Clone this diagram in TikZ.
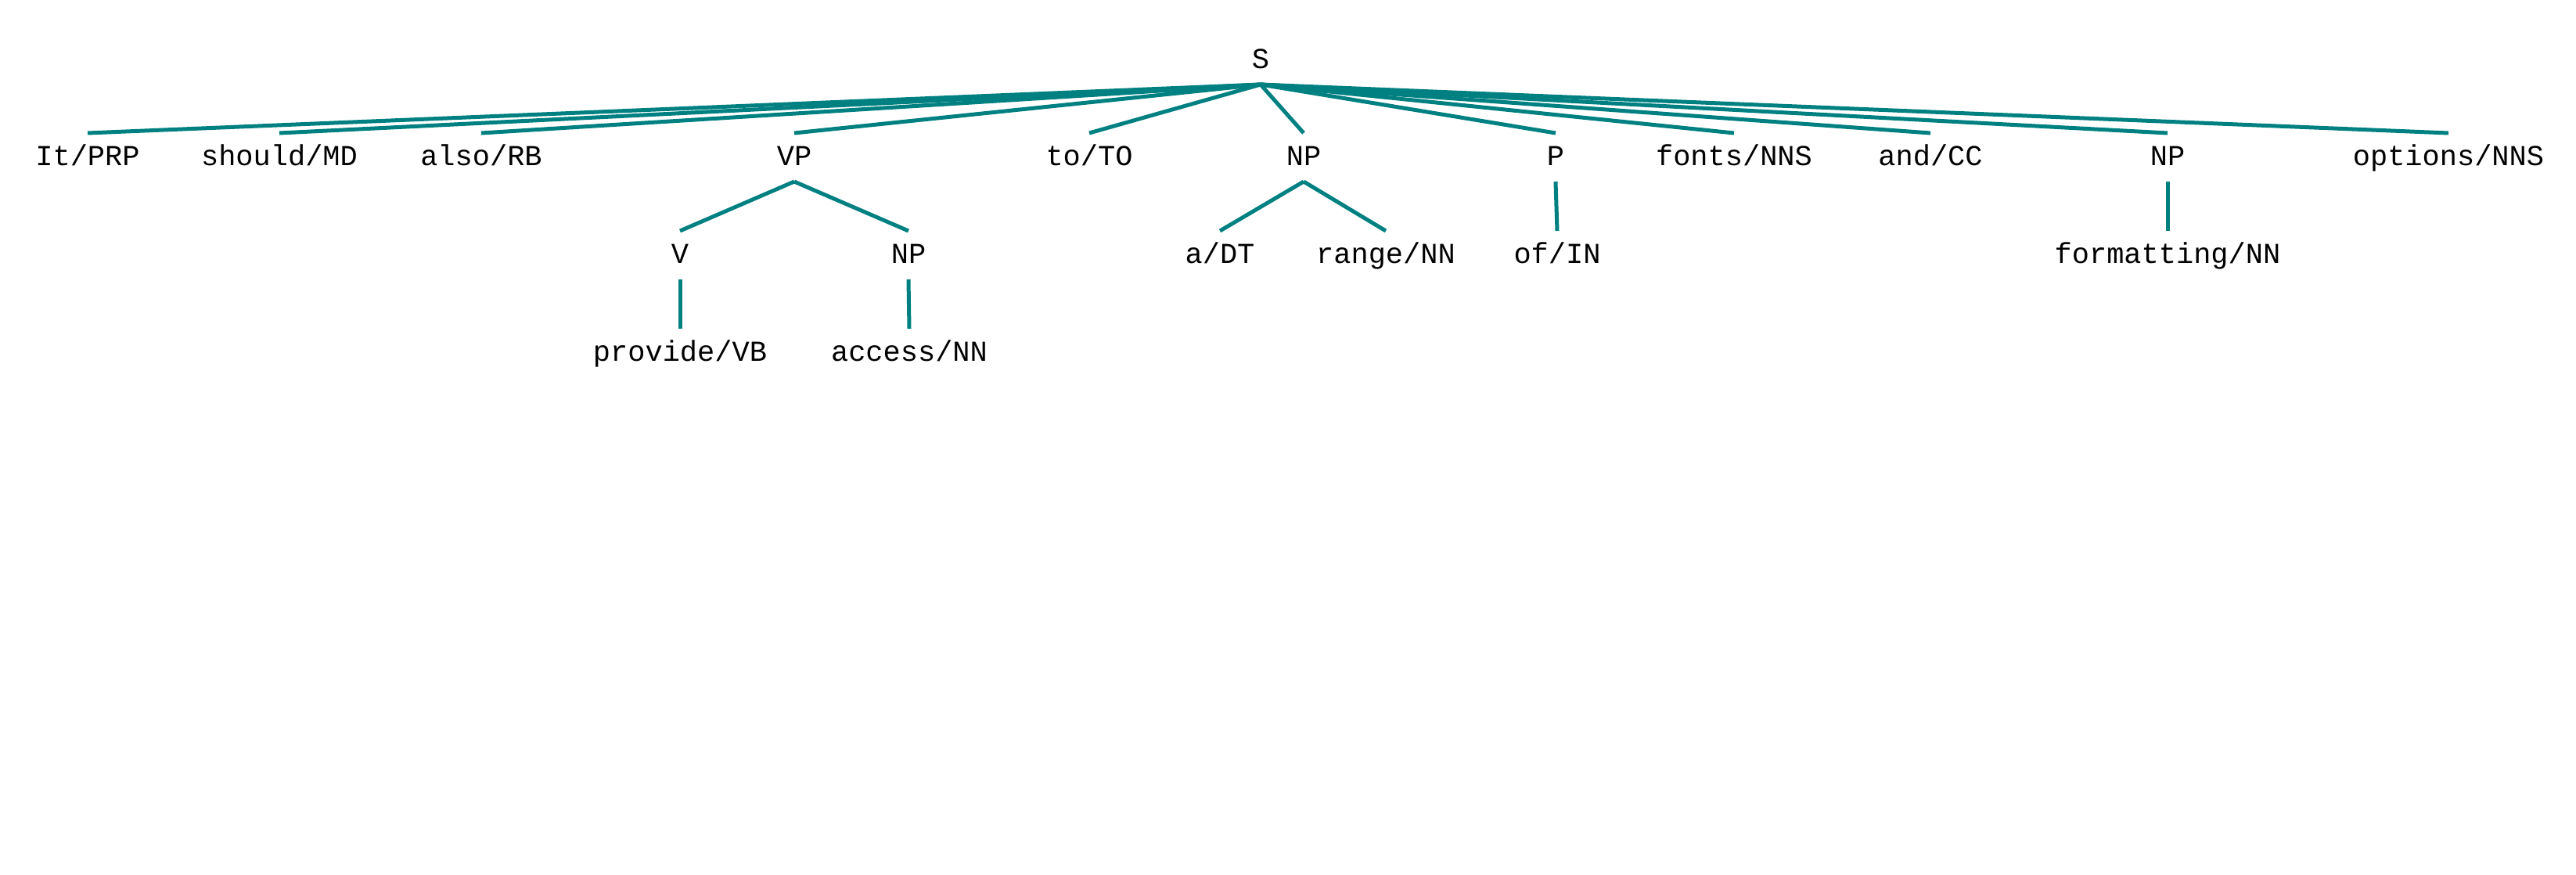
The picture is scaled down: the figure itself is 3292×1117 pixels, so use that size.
\documentclass[tikz,border=0pt]{standalone}
\usepackage{fontspec}
\setmonofont{Liberation Mono}
\usepackage{tikz}
\tikzset{%
  tok/.style={font=\fontsize{9.25}{11}\ttfamily,inner xsep=0,inner ysep=4.9pt,text height=5.3pt,text depth=0pt},
  tedge/.style={draw=teal,line width=1.25pt}
}

\begin{document}
\begin{tikzpicture}[x=0.25pt,y=-0.25pt]
    \useasboundingbox (0,0) rectangle (3292,1117);
    \path
      (1611,77) node (s)[tok]{S}
      (112,201) node (it)[tok]{It/PRP}
      (357,201) node (should)[tok]{should/MD}
      (615,201) node (also)[tok]{also/RB}
      (1015,201) node (vp)[tok]{VP}
      (1392,201) node (tot)[tok]{to/TO}
      (1666,201) node (npa)[tok]{NP}
      (1988,201) node (p)[tok]{P}
      (2216,201) node (fonts)[tok]{fonts/NNS}
      (2467,201) node (cc)[tok]{and/CC}
      (2770,201) node (npc)[tok]{NP}
      (3129,201) node (options)[tok]{options/NNS}
      (869,326) node (v)[tok]{V}
      (1161,326) node (npb)[tok]{NP}
      (1559,326) node (dt)[tok]{a/DT}
      (1771,326) node (range)[tok]{range/NN}
      (1990,326) node (of)[tok]{of/IN}
      (2770,326) node (formatting)[tok]{formatting/NN}
      (869,451) node (provide)[tok]{provide/VB}
      (1162,451) node (access)[tok]{access/NN};
    \foreach \c in {it,should,also,vp,tot,npa,p,fonts,cc,npc,options}
      \draw[tedge] (s.south) -- (\c.north);
    \draw[tedge] (vp.south) -- (v.north);
    \draw[tedge] (vp.south) -- (npb.north);
    \draw[tedge] (v.south) -- (provide.north);
    \draw[tedge] (npb.south) -- (access.north);
    \draw[tedge] (npa.south) -- (dt.north);
    \draw[tedge] (npa.south) -- (range.north);
    \draw[tedge] (p.south) -- (of.north);
    \draw[tedge] (npc.south) -- (formatting.north);
  \end{tikzpicture}
\end{document}
